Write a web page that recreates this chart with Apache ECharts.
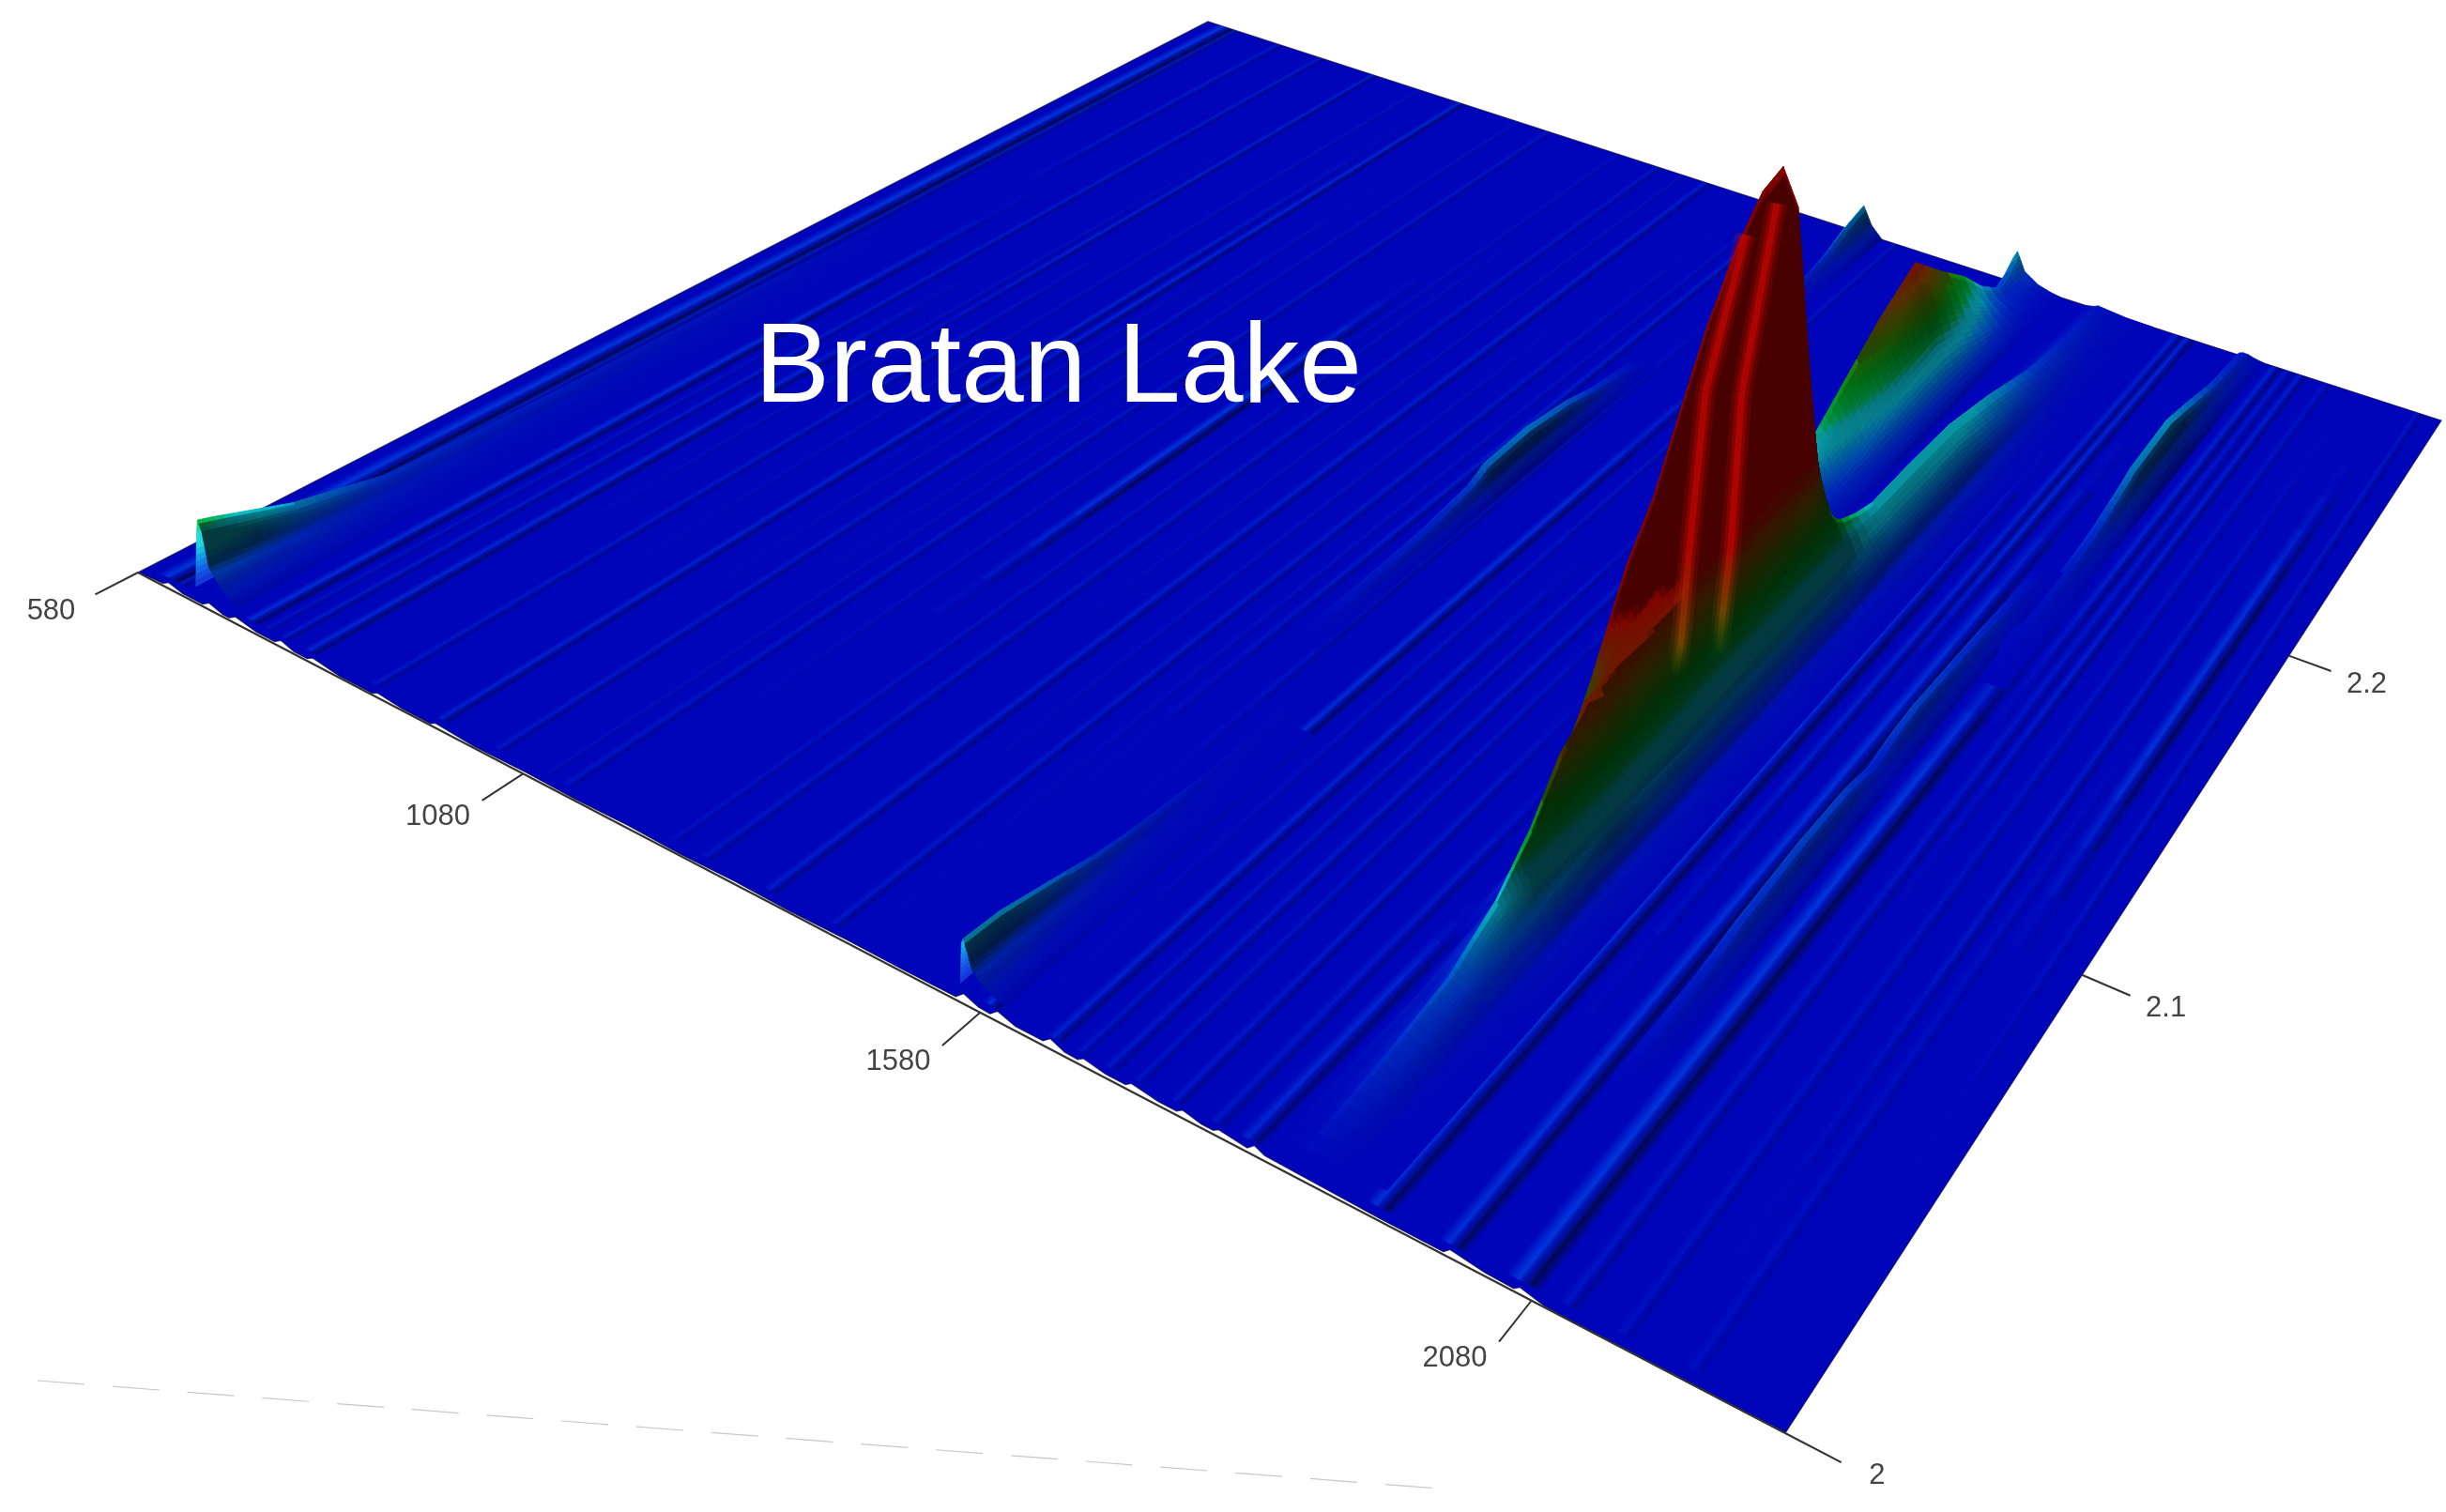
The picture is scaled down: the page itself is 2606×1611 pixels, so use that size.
<!DOCTYPE html>
<html>
<head>
<meta charset="utf-8">
<title>Bratan Lake</title>
<style>
    html, body { margin: 0; padding: 0; background: #fff; }
    #surfaceChart { width: 2606px; height: 1611px; }
</style>
<script src="https://cdn.jsdelivr.net/npm/echarts@6/dist/echarts.min.js"></script>
</head>
<body>
<div id="surfaceChart"></div>
<script>
// Axis ranges and tick labels
const t1Range = [580, 2280];
const t2Range = [2, 2.3];
const t1Ticks = [580, 1080, 1580, 2080];
const t2Ticks = [2, 2.1, 2.2];

// Main peak, rows follow mainT1, columns follow mainT2
const mainT1 = [1830, 1838, 1842, 1846, 1852, 1857, 1867, 1872, 1880, 1889, 1898, 1906, 1923, 1940];
const mainT2 = [2.005, 2.04, 2.053, 2.063, 2.072, 2.081, 2.093, 2.104, 2.113, 2.122, 2.132, 2.143, 2.153, 2.161, 2.167, 2.172, 2.178, 2.185, 2.2, 2.22, 2.24, 2.26, 2.28, 2.3];
const mainZ = [
    [0, 0, 0, 0, 0, 0, 0, 0, 0, 0, 0, 0, 0, 0, 0, 0, 0, 0, 0, 0, 0, 0, 0, 0],
    [0, 0, 0, 1, 4, 10, 26, 42, 51, 64, 78, 90, 98, 100, 88, 35, 10, 2, 0, 0, 0, 0, 0, 0],
    [0, 0, 0, 1, 4, 12, 27, 38, 46, 58, 70, 81, 89, 92, 76, 31, 9, 2, 0.5, 0, 0, 0, 0, 0],
    [0, 0, 1, 2, 6, 15, 28, 35, 42, 53, 64, 72, 80, 83, 62, 25, 8, 3, 1, 0, 0, 0, 0, 0],
    [0, 1, 2, 4, 8, 19, 29, 32, 36, 44, 53, 59, 66, 68, 42, 16, 7, 4, 2, 1, 0, 0, 0, 0],
    [0, 1, 3, 7, 13, 24, 30, 32, 33, 38, 45, 50, 55, 56, 32, 14, 7, 5, 4, 2.5, 1, 0.5, 0, 0],
    [0, 2, 5, 11, 18, 30, 30.5, 30, 30, 30, 30, 30, 30, 29, 22, 13, 8, 7, 6, 5, 3, 1.5, 1, 0.5],
    [0.3, 5, 10, 17, 26, 30, 25, 23, 22, 22, 22, 22, 22, 21, 18, 15, 13, 11.5, 11.5, 11, 8, 4, 2, 1],
    [0.3, 4, 8, 12, 14, 16, 15, 14, 13, 13, 13, 13, 13, 13, 13, 12, 11, 10.5, 10.5, 10, 7, 3.5, 1.8, 0.8],
    [0.2, 3, 5, 7, 8, 8.5, 8, 7.5, 7.5, 7.5, 7.5, 7.5, 7.5, 7.5, 7.5, 7.5, 8, 8, 8, 8, 5, 2.5, 1.2, 0.6],
    [0.1, 1.5, 2.5, 3.5, 4, 4, 4, 3.5, 3.5, 3.5, 3.5, 3.5, 3.5, 3.5, 3.5, 4, 4.5, 5, 5, 5, 3, 1.5, 0.8, 0.4],
    [0, 0.5, 1, 1, 1.2, 1.2, 1.2, 1, 1, 1, 1, 1, 1, 1, 1, 1.2, 1.5, 2, 2, 2, 1.3, 0.8, 0.5, 0.2],
    [0, 0.1, 0.2, 0.3, 0.4, 0.4, 0.4, 0.3, 0.3, 0.3, 0.3, 0.3, 0.3, 0.3, 0.3, 0.3, 0.3, 0.4, 0.4, 0.4, 0.3, 0.2, 0.1, 0.1],
    [0, 0, 0, 0, 0, 0, 0, 0, 0, 0, 0, 0, 0, 0, 0, 0, 0, 0, 0, 0, 0, 0, 0, 0]
];

// Creases on the red face of the main peak, all at one t1: t2, height, colour level
const creaseT1 = 1855;
const creaseAT2 = [2.1403, 2.1255, 2.1198, 2.1168, 2.1148];
const creaseAZ = [95.3, 68.2, 37.6, 19.2, 13];
const creaseALevel = [60, 50, 33, 27, 22];
const creaseBT2 = [2.1523, 2.1389, 2.1347, 2.1319, 2.1302];
const creaseBZ = [96.7, 61.1, 28.9, 16.7, 7.5];
const creaseBLevel = [60, 50, 33, 27, 22];

// Second hump behind the main peak
const shoulderT1 = [1760, 1765, 1770, 1779, 1796, 1812, 1825];
const shoulderT2 = [2.17, 2.18, 2.19, 2.206, 2.218, 2.229, 2.246, 2.258, 2.271, 2.28, 2.289, 2.295, 2.3];
const shoulderZ = [
    [0, 0, 0, 0, 0, 0, 0, 0, 0, 0, 0, 0, 0],
    [0, 2, 5, 11, 16, 20, 25, 19, 12, 7, 3, 4.5, 7],
    [0, 3, 8, 15.4, 21, 26, 32, 24, 16, 9, 4, 6, 9],
    [0, 2.5, 7, 13, 17, 21, 26, 20, 12, 6, 2.5, 3, 4],
    [0, 1.5, 3, 6, 9, 10.5, 12, 10, 6, 3, 1.2, 1.3, 1.5],
    [0, 0.5, 1, 2, 3, 3.5, 4, 3.5, 2, 1, 0.4, 0.4, 0.5],
    [0, 0, 0, 0, 0, 0, 0, 0, 0, 0, 0, 0, 0]
];

// Wedge at the far left of the front edge
const wedgeT1 = [639, 640, 641, 647, 657, 675, 697];
const wedgeT2 = [2.003, 2.006, 2.022, 2.041, 2.06, 2.09, 2.13, 2.18];
const wedgeZ = [
    [0, 0, 0, 0, 0, 0, 0, 0],
    [11, 10.5, 6, 2.4, 1.6, 1.2, 0.8, 0],
    [14.5, 13.5, 7.5, 3, 2, 1.5, 1, 0],
    [12.5, 11.5, 6.5, 2.6, 1.7, 1.3, 0.8, 0],
    [5.5, 5, 3, 1.4, 0.9, 0.7, 0.4, 0],
    [2, 1.8, 1.2, 0.6, 0.4, 0.3, 0.2, 0],
    [0, 0, 0, 0, 0, 0, 0, 0]
];

// Ridge at the 1580 tick, front part and wrapped back part
const frontRidgeT1 = [1546, 1547, 1549, 1558, 1572, 1590];
const frontRidgeT2 = [2.003, 2.011, 2.026, 2.033, 2.045, 2.06, 2.08, 2.11];
const frontRidgeZ = [
    [0, 0, 0, 0, 0, 0, 0, 0],
    [7.5, 7, 4, 2.8, 1.6, 0.4, 0.1, 0],
    [8.5, 8, 5, 3.5, 2, 0.5, 0.2, 0],
    [3.5, 3.3, 2, 1.4, 0.8, 0.2, 0.1, 0],
    [1.2, 1.1, 0.7, 0.5, 0.3, 0.1, 0, 0],
    [0, 0, 0, 0, 0, 0, 0, 0]
];
const backRidgeT1 = [1562, 1565, 1568, 1578, 1592];
const backRidgeT2 = [2.25, 2.27, 2.28, 2.29, 2.3];
const backRidgeZ = [
    [0, 0, 0, 0, 0],
    [0, 1.3, 2.7, 5.4, 7.2],
    [0, 1.5, 3, 6, 8],
    [0, 0.6, 1.2, 2.4, 3.2],
    [0, 0, 0, 0, 0]
];

// Small separate peaks
const midPeakT1 = [1490, 1494, 1498, 1504, 1510, 1520];
const midPeakT2 = [2.1, 2.14, 2.155, 2.16, 2.175, 2.19, 2.2, 2.22];
const midPeakZ = [
    [0, 0, 0, 0, 0, 0, 0, 0],
    [0, 1.4, 2.8, 4.2, 4.6, 3.5, 2.1, 0],
    [0, 2, 4, 6, 6.5, 5, 3, 0],
    [0, 1.8, 3.6, 5.5, 6, 4.6, 2.7, 0],
    [0, 0.8, 1.6, 2.5, 2.8, 2.1, 1.3, 0],
    [0, 0, 0, 0, 0, 0, 0, 0]
];
const rightPeakT1 = [2042, 2046, 2050, 2056, 2062, 2074];
const rightPeakT2 = [2.16, 2.18, 2.2, 2.214, 2.233, 2.253, 2.263, 2.28, 2.298, 2.3];
const rightPeakZ = [
    [0, 0, 0, 0, 0, 0, 0, 0, 0, 0],
    [0, 0.3, 1, 2.1, 4.9, 5.6, 4.5, 2.4, 1, 0.7],
    [0, 0.5, 1.5, 3, 7, 8, 6.5, 3.5, 1.5, 1],
    [0, 0.5, 1.4, 2.8, 6.5, 7.5, 6, 3.2, 1.4, 0.9],
    [0, 0.3, 0.8, 1.5, 3.5, 4, 3.2, 1.8, 0.8, 0.5],
    [0, 0, 0, 0, 0, 0, 0, 0, 0, 0]
];
const lowPeakT1 = [2018, 2021, 2025, 2030, 2036, 2046];
const lowPeakT2 = [2.04, 2.065, 2.078, 2.1, 2.116, 2.125, 2.135, 2.143, 2.17, 2.2];
const lowPeakZ = [
    [0, 0, 0, 0, 0, 0, 0, 0, 0, 0],
    [0, 1, 2.1, 2.8, 2.4, 1.2, 2.4, 2.8, 1.8, 0],
    [0, 1.5, 3, 4, 3.5, 1.8, 3.5, 4, 2.5, 0],
    [0, 1.4, 2.8, 3.7, 3.3, 1.7, 3.3, 3.7, 2.3, 0],
    [0, 0.7, 1.4, 1.8, 1.6, 0.8, 1.6, 1.8, 1.2, 0],
    [0, 0, 0, 0, 0, 0, 0, 0, 0, 0]
];

// Low streaks on the floor: t1, t2 start, t2 end, strength, width in t1
const streaks = [
    [612, 2.002, 2.3, 0.85, 14], [628, 2.002, 2.3, 0.4, 6], [700, 2.2, 2.3, 0.35, 7],
    [724, 2.002, 2.2, 0.7, 9], [745, 2.002, 2.14, 0.25, 5], [768, 2.002, 2.3, 0.4, 6],
    [802, 2.002, 2.16, 0.6, 8], [838, 2.04, 2.26, 0.2, 5], [852, 2.12, 2.3, 0.5, 6],
    [886, 2.002, 2.2, 0.35, 6], [925, 2.03, 2.3, 0.18, 5], [970, 2.002, 2.28, 0.5, 7],
    [988, 2.1, 2.3, 0.6, 7], [1010, 2.04, 2.22, 0.15, 5], [1040, 2.002, 2.25, 0.35, 6],
    [1075, 2.05, 2.3, 0.18, 5], [1098, 2.002, 2.18, 0.15, 4], [1122, 2.002, 2.3, 0.3, 6],
    [1165, 2.02, 2.2, 0.18, 5], [1205, 2.07, 2.22, 0.85, 10], [1225, 2.16, 2.3, 0.15, 5],
    [1245, 2.002, 2.27, 0.22, 5], [1282, 2.002, 2.3, 0.3, 6], [1318, 2.06, 2.3, 0.18, 4],
    [1352, 2.002, 2.3, 0.42, 7], [1388, 2.03, 2.24, 0.18, 5], [1422, 2.002, 2.28, 0.35, 6],
    [1452, 2.01, 2.3, 0.18, 5], [1472, 2.05, 2.3, 0.4, 6], [1522, 2.05, 2.25, 0.35, 6],
    [1583, 2.002, 2.25, 0.7, 8], [1612, 2.01, 2.3, 0.25, 5], [1646, 2.002, 2.15, 0.5, 7],
    [1672, 2.002, 2.2, 0.3, 5], [1700, 2.002, 2.2, 0.35, 6], [1726, 2.002, 2.16, 0.25, 5],
    [1762, 2.002, 2.12, 0.35, 6], [1800, 2.002, 2.1, 0.35, 7], [1830, 2.002, 2.06, 0.6, 9],
    [1880, 2.24, 2.3, 0.7, 8], [1905, 2.2, 2.3, 0.7, 8], [1945, 2.002, 2.24, 0.75, 10],
    [1972, 2.05, 2.3, 0.5, 7], [1985, 2.15, 2.3, 0.6, 7], [2008, 2.002, 2.25, 0.75, 10],
    [2067, 2.002, 2.2, 0.9, 12], [2090, 2.15, 2.3, 0.5, 7], [2105, 2.002, 2.3, 0.3, 7],
    [2120, 2.1, 2.3, 0.45, 6], [2150, 2.002, 2.3, 0.22, 6], [2185, 2.02, 2.28, 0.35, 6],
    [2205, 2.002, 2.16, 0.18, 6], [2225, 2.1, 2.27, 0.8, 10], [2255, 2.05, 2.3, 0.3, 5]
];

// Front edge of the floor, where it lifts off the axis line
const frontEdgeT1 = [580, 598, 612, 615, 640, 667, 670, 695, 703, 706, 740, 764, 767, 790, 807, 810, 850, 892, 895, 930, 965, 968, 1020, 1080, 1140, 1200, 1260, 1320, 1380, 1440, 1500, 1553, 1556, 1575, 1587, 1590, 1612, 1639, 1642, 1660, 1673, 1676, 1700, 1719, 1722, 1750, 1767, 1770, 1790, 1801, 1804, 1832, 1835, 1847, 1900, 1950, 2005, 2008, 2040, 2064, 2067, 2090, 2130, 2280];
const frontEdgeT2 = [2, 2.0003, 2.0004, 2.0011, 2.0004, 2.0004, 2.0012, 2.0004, 2.0004, 2.0012, 2.0004, 2.0004, 2.0012, 2.0004, 2.0004, 2.001, 2.0003, 2.0003, 2.0008, 2.0003, 2.0003, 2.0008, 2.0003, 2.0005, 2.0003, 2.0005, 2.0003, 2.0005, 2.0003, 2.0005, 2.0004, 2.0005, 2.0016, 2.0007, 2.0006, 2.0016, 2.0007, 2.0007, 2.0016, 2.0007, 2.0006, 2.0012, 2.0006, 2.0006, 2.0012, 2.0006, 2.0006, 2.0012, 2.0006, 2.0006, 2.0011, 2.0006, 2.0015, 2.0008, 2.0006, 2.0004, 2.0004, 2.0012, 2.0005, 2.0004, 2.001, 2.0002, 2, 2];

// Screen corners of the floor, height scale and colour ramp
const FLOOR_CORNERS = [[147, 610], [1902, 1527], [2601, 448], [1287, 23]];
const HEIGHT_SCALE = 4.89;
const COLOR_RAMP = [
    [0, [0, 5, 185]], [3, [0, 45, 205]], [6, [0, 110, 205]], [9, [10, 175, 195]], [11.5, [10, 175, 190]],
    [13.5, [0, 165, 70]], [17, [0, 145, 25]], [22, [70, 115, 0]], [27, [150, 75, 0]], [33, [215, 5, 0]]
];

const meshes = [
    { t1: mainT1, t2: mainT2, z: mainZ, gain: 1 },
    { t1: shoulderT1, t2: shoulderT2, z: shoulderZ, gain: 0.5 },
    { t1: wedgeT1, t2: wedgeT2, z: wedgeZ, gain: 1 },
    { t1: frontRidgeT1, t2: frontRidgeT2, z: frontRidgeZ, gain: 1 },
    { t1: backRidgeT1, t2: backRidgeT2, z: backRidgeZ, gain: 1 },
    { t1: midPeakT1, t2: midPeakT2, z: midPeakZ, gain: 1 },
    { t1: rightPeakT1, t2: rightPeakT2, z: rightPeakZ, gain: 1 },
    { t1: lowPeakT1, t2: lowPeakT2, z: lowPeakZ, gain: 1 }
];

const creases = [
    { t2: creaseAT2, z: creaseAZ, level: creaseALevel },
    { t2: creaseBT2, z: creaseBZ, level: creaseBLevel }
];

// Square to quad perspective coefficients
function solveHomography(c) {
    const dx1 = c[1][0] - c[2][0], dx2 = c[3][0] - c[2][0], sx = c[0][0] - c[1][0] + c[2][0] - c[3][0];
    const dy1 = c[1][1] - c[2][1], dy2 = c[3][1] - c[2][1], sy = c[0][1] - c[1][1] + c[2][1] - c[3][1];
    const den = dx1 * dy2 - dx2 * dy1;
    const g = (sx * dy2 - dx2 * sy) / den;
    const h = (dx1 * sy - sx * dy1) / den;
    return {
        a: c[1][0] - c[0][0] + g * c[1][0], b: c[3][0] - c[0][0] + h * c[3][0], c: c[0][0],
        d: c[1][1] - c[0][1] + g * c[1][1], e: c[3][1] - c[0][1] + h * c[3][1], f: c[0][1],
        g: g, h: h
    };
}
const H = solveHomography(FLOOR_CORNERS);

// The hidden cartesian axes give the scale, the homography tilts it onto the floor
function makeProjector(params, api) {
    const sys = params.coordSys;
    return function (t1, t2, z) {
        const p = api.coord([t1, t2]);
        const u = (p[0] - sys.x) / sys.width;
        const v = 1 - (p[1] - sys.y) / sys.height;
        const w = H.g * u + H.h * v + 1;
        return [
            (H.a * u + H.b * v + H.c) / w,
            (H.d * u + H.e * v + H.f) / w - (z || 0) * HEIGHT_SCALE / w
        ];
    };
}

function baseColor(z) {
    for (let i = 1; i < COLOR_RAMP.length; i++) {
        if (z <= COLOR_RAMP[i][0]) {
            const lo = COLOR_RAMP[i - 1], hi = COLOR_RAMP[i];
            const f = (z - lo[0]) / (hi[0] - lo[0]);
            return [0, 1, 2].map(k => lo[1][k] + (hi[1][k] - lo[1][k]) * f);
        }
    }
    return COLOR_RAMP[COLOR_RAMP.length - 1][1];
}

function toRgb(c) {
    return 'rgb(' + c.map(v => Math.round(Math.min(255, v))).join(',') + ')';
}

function rampColor(z, slope) {
    let c = baseColor(z);
    // right facing slopes go dark, left facing slopes catch the light, the tall part stays dim
    if (z > 20) {
        const s = slope < 0 ? Math.max(0.33, 1 + slope * 1.3) : 1;
        c = c.map(v => v * Math.min(0.6, s));
    } else if (slope < 0) {
        const s = Math.max(0.33, 1 + slope * 1.3);
        c = c.map(v => v * s);
    } else {
        const t = Math.min(1, slope * 1.2);
        c = [c[0] + 20 * t, c[1] + 45 * t, c[2] + 25 * t];
    }
    return toRgb(c);
}

function columnSlope(m, i, j) {
    const n = m.t1.length - 2;
    const k = Math.max(0, Math.min(n, i));
    return (m.z[k + 1][j] - m.z[k][j]) / (m.t1[k + 1] - m.t1[k]);
}

function renderMeshCell(params, api) {
    const project = makeProjector(params, api);
    const m = meshes[api.value(0)];
    const i = api.value(1), j = api.value(2);
    const t1a = m.t1[i], t1b = m.t1[i + 1], t2a = m.t2[j], t2b = m.t2[j + 1];
    const z00 = m.z[i][j], z10 = m.z[i + 1][j], z01 = m.z[i][j + 1], z11 = m.z[i + 1][j + 1];

    const p00 = project(t1a, t2a, z00), p10 = project(t1b, t2a, z10);
    const p01 = project(t1a, t2b, z01), p11 = project(t1b, t2b, z11);
    const across = Math.max(Math.hypot(p10[0] - p00[0], p10[1] - p00[1]), Math.hypot(p11[0] - p01[0], p11[1] - p01[1]));
    const along = Math.max(Math.hypot(p01[0] - p00[0], p01[1] - p00[1]), Math.hypot(p11[0] - p10[0], p11[1] - p10[1]));
    const na = Math.min(8, Math.max(1, Math.ceil(across / 6)));
    const nl = Math.min(12, Math.max(1, Math.ceil(along / 12)));

    const heightAt = (fx, fy) => (z00 * (1 - fx) + z10 * fx) * (1 - fy) + (z01 * (1 - fx) + z11 * fx) * fy;
    const point = (fx, fy) => project(t1a + (t1b - t1a) * fx, t2a + (t2b - t2a) * fy, heightAt(fx, fy));
    const slopeAt = (fx, row) => {
        const here = columnSlope(m, i, row);
        if (fx < 0.25) {
            const prev = columnSlope(m, i - 1, row);
            return prev + (here - prev) * (fx / 0.25 + 1) / 2;
        }
        if (fx > 0.75) {
            const next = columnSlope(m, i + 1, row);
            return here + (next - here) * ((fx - 0.75) / 0.25) / 2;
        }
        return here;
    };

    const children = [];
    for (let b = nl - 1; b >= 0; b--) {
        for (let a = 0; a < na; a++) {
            const fx0 = a / na, fx1 = (a + 1) / na, fy0 = b / nl, fy1 = (b + 1) / nl;
            const fx = (fx0 + fx1) / 2, fy = (fy0 + fy1) / 2;
            const slope = (slopeAt(fx, j) * (1 - fy) + slopeAt(fx, j + 1) * fy) * m.gain;
            const fill = rampColor(heightAt(fx, fy), slope);
            children.push({
                type: 'polygon',
                silent: true,
                shape: { points: [point(fx0, fy0), point(fx1, fy0), point(fx1, fy1), point(fx0, fy1)] },
                style: { fill: fill, stroke: fill, lineWidth: 0.8 }
            });
        }
    }
    return { type: 'group', children: children };
}

function withAlpha(rgb, alpha) {
    return rgb.replace('rgb(', 'rgba(').replace(')', ',' + alpha + ')');
}

function renderCrease(params, api) {
    const project = makeProjector(params, api);
    const c = creases[api.value(0)];
    const last = c.t2.length - 1;
    const children = [];
    [[22, 0.16], [14, 0.28], [7, 0.5]].forEach(layer => {
        for (let k = 0; k < last; k++) {
            const a = project(creaseT1, c.t2[k], c.z[k]);
            const b = project(creaseT1, c.t2[k + 1], c.z[k + 1]);
            children.push({
                type: 'line',
                silent: true,
                shape: { x1: a[0], y1: a[1], x2: b[0], y2: b[1] },
                style: {
                    lineWidth: layer[0],
                    opacity: layer[1],
                    stroke: {
                        type: 'linear', global: true,
                        x: a[0], y: a[1], x2: b[0], y2: b[1],
                        colorStops: [
                            { offset: 0, color: toRgb(baseColor(c.level[k])) },
                            { offset: 1, color: withAlpha(toRgb(baseColor(c.level[k + 1])), k + 1 === last ? 0 : 1) }
                        ]
                    }
                }
            });
        }
    });
    return { type: 'group', children: children };
}

function renderStreak(params, api) {
    const project = makeProjector(params, api);
    const s = streaks[api.value(0)];
    const t1 = s[0], start = s[1], end = s[2], depth = Math.min(1, s[3] * 1.15), half = s[4] * 1.25;
    const segments = 12;
    const children = [];
    for (let k = 0; k < segments; k++) {
        const a = start + (end - start) * k / segments;
        const b = start + (end - start) * (k + 1) / segments;
        const mid = (a + b) / 2;
        // fade the ends unless the streak runs off the floor there
        const fadeIn = start <= 2.002 ? 1 : Math.min(1, (k + 0.5) / 4);
        const fadeOut = end >= 2.3 ? 1 : Math.min(1, (segments - k - 0.5) / 4);
        const alpha = depth * fadeIn * fadeOut;
        const left = project(t1 - half, mid), right = project(t1 + half, mid);
        const top = project(t1, b), bottom = project(t1, a);
        let dx = top[0] - bottom[0], dy = top[1] - bottom[1];
        const len = Math.hypot(dx, dy);
        dx /= len; dy /= len;
        const rx = right[0] - left[0], ry = right[1] - left[1];
        const along = rx * dx + ry * dy;
        const nx = rx - along * dx, ny = ry - along * dy;
        children.push({
            type: 'polygon',
            silent: true,
            shape: { points: [project(t1 - half, a), project(t1 + half, a), project(t1 + half, b), project(t1 - half, b)] },
            style: {
                fill: {
                    type: 'linear', global: true,
                    x: left[0], y: left[1], x2: left[0] + nx, y2: left[1] + ny,
                    colorStops: [
                        { offset: 0, color: 'rgba(0,60,225,0)' },
                        { offset: 0.34, color: 'rgba(0,60,225,' + alpha * 0.9 + ')' },
                        { offset: 0.5, color: 'rgba(0,30,150,' + alpha * 0.35 + ')' },
                        { offset: 0.68, color: 'rgba(0,8,70,' + alpha * 0.9 + ')' },
                        { offset: 1, color: 'rgba(0,8,70,0)' }
                    ]
                }
            }
        });
    }
    return { type: 'group', children: children };
}

function renderFloor(params, api) {
    const project = makeProjector(params, api);
    const points = frontEdgeT1.map((t, i) => project(t, frontEdgeT2[i]));
    points.push(project(t1Range[1], t2Range[1]), project(t1Range[0], t2Range[1]));
    return {
        type: 'polygon',
        silent: true,
        shape: { points: points },
        style: { fill: 'rgb(0,5,185)', stroke: 'rgba(0,0,70,0.7)', lineWidth: 1.2 }
    };
}

function renderAxes(params, api) {
    const project = makeProjector(params, api);
    const line = (a, b, width) => ({
        type: 'line',
        silent: true,
        shape: { x1: a[0], y1: a[1], x2: b[0], y2: b[1] },
        style: { stroke: '#333', lineWidth: width }
    });
    const label = (text, p) => ({
        type: 'text',
        silent: true,
        style: {
            text: String(text), x: p[0], y: p[1], align: 'center', verticalAlign: 'middle',
            font: '31px "Liberation Sans"', fill: '#444'
        }
    });
    const children = [line(project(t1Range[0], t2Range[0]), project(t1Range[1], t2Range[0]), 2.2)];
    t1Ticks.forEach(t => {
        const end = project(t, t2Range[0] - 0.008);
        children.push(line(project(t, t2Range[0]), end, 2));
        children.push(label(t, [end[0] - 47, end[1] + 18]));
    });
    t2Ticks.forEach(t => {
        const end = project(t1Range[1] + 42, t);
        children.push(line(project(t1Range[1], t), end, 2));
        children.push(label(t, [end[0] + 38, end[1] + 14]));
    });
    return { type: 'group', children: children };
}

// One data item per mesh cell, far cells first so near ones paint over them
function buildMeshCells() {
    const cells = [];
    meshes.forEach((m, idx) => {
        for (let i = 0; i < m.t1.length - 1; i++) {
            for (let j = 0; j < m.t2.length - 1; j++) {
                if (m.z[i][j] + m.z[i + 1][j] + m.z[i][j + 1] + m.z[i + 1][j + 1] === 0) continue;
                const u = ((m.t1[i] + m.t1[i + 1]) / 2 - t1Range[0]) / (t1Range[1] - t1Range[0]);
                const v = ((m.t2[j] + m.t2[j + 1]) / 2 - t2Range[0]) / (t2Range[1] - t2Range[0]);
                cells.push({ value: [idx, i, j], depth: H.g * u + H.h * v });
            }
        }
    });
    cells.sort((a, b) => b.depth - a.depth);
    return cells.map(c => c.value);
}

function initSurfaceChart() {
    const chartDom = document.getElementById('surfaceChart');
    const myChart = echarts.init(chartDom);

    const option = {
        animation: false,
        backgroundColor: '#fff',
        title: {
            text: 'Bratan Lake',
            left: 804,
            top: 335,
            padding: 0,
            textStyle: { color: '#fff', fontFamily: 'Liberation Sans', fontSize: 120, fontWeight: 'normal' }
        },
        grid: { left: 0, top: 0, right: 0, bottom: 0 },
        xAxis: { type: 'value', min: t1Range[0], max: t1Range[1], show: false },
        yAxis: { type: 'value', min: t2Range[0], max: t2Range[1], show: false },
        graphic: [{
            type: 'line',
            silent: true,
            shape: { x1: 40, y1: 1471, x2: 1546, y2: 1587 },
            style: { stroke: '#c8c8c8', lineWidth: 1.2, lineDash: [50, 30] }
        }],
        series: [
            { type: 'custom', renderItem: renderFloor, data: [[0, 0]], progressive: 0, silent: true, z: 1 },
            { type: 'custom', renderItem: renderStreak, data: streaks.map((s, i) => [i, 0]), progressive: 0, silent: true, z: 2 },
            { type: 'custom', renderItem: renderMeshCell, data: buildMeshCells(), progressive: 0, silent: true, z: 3 },
            { type: 'custom', renderItem: renderCrease, data: creases.map((c, i) => [i, 0]), progressive: 0, silent: true, z: 4 },
            { type: 'custom', renderItem: renderAxes, data: [[0, 0]], progressive: 0, silent: true, z: 5 }
        ]
    };

    myChart.setOption(option);
}

document.addEventListener('DOMContentLoaded', function () {
    initSurfaceChart();
});
</script>
</body>
</html>
